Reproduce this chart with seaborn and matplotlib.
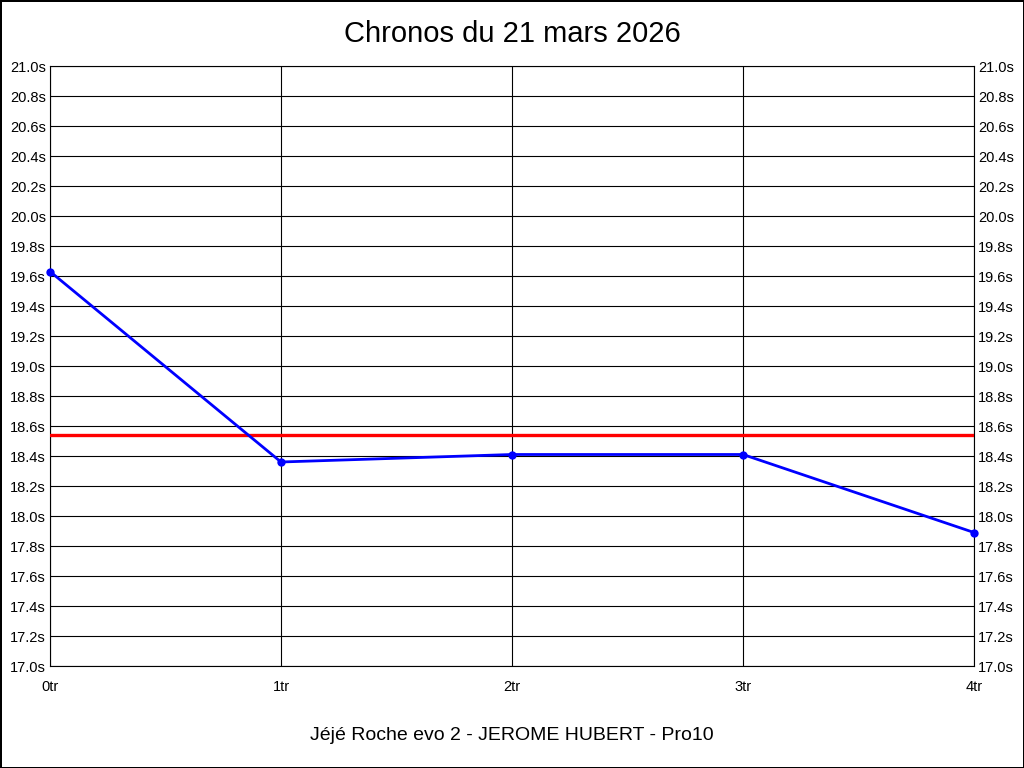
import pandas as pd
import matplotlib.pyplot as plt
import seaborn as sns

# Data
tours = [0, 1, 2, 3, 4]
tour_labels = ['0tr', '1tr', '2tr', '3tr', '4tr']
chronos = [19.63, 18.36, 18.41, 18.41, 17.89]
y_ticks = [17.0 + 0.2 * i for i in range(21)]

df = pd.DataFrame({'tour': tours, 'chrono': chronos})
moyenne = df['chrono'].mean()

sns.set_style('white')
plt.rcParams['font.family'] = ['Liberation Sans', 'DejaVu Sans']
plt.rcParams['text.color'] = 'black'
plt.rcParams['xtick.color'] = 'black'
plt.rcParams['ytick.color'] = 'black'

fig = plt.figure(figsize=(10.24, 7.68), dpi=100, linewidth=2, edgecolor='black')
ax = fig.add_axes([50 / 1024, 102 / 768, 924 / 1024, 600 / 768])

sns.lineplot(data=df, x='tour', y='chrono', ax=ax, color='#0000ff',
             linewidth=2, marker='o', markersize=6, markeredgewidth=0, clip_on=False, zorder=4)
ax.axhline(moyenne, color='#ff0000', linewidth=2.4, zorder=3)

ax.set_xlim(0, 4)
ax.set_ylim(17.0, 21.0)
ax.set_xticks(tours)
ax.set_xticklabels(tour_labels)
ax.set_yticks(y_ticks)
ax.set_yticklabels([f'{v:.1f}s' for v in y_ticks])
ax.grid(True, color='black', linewidth=0.8)
ax.set_axisbelow(True)
for s in ax.spines.values():
    s.set_color('black')
    s.set_linewidth(0.8)
ax.tick_params(axis='y', which='both', length=0, pad=3, labelsize=10.5, labelright=True)
ax.tick_params(axis='x', length=0, pad=10, labelsize=10.5)
ax.set_xlabel('')
ax.set_ylabel('')

fig.text(0.5, 1 - 34 / 768, 'Chronos du 21 mars 2026', ha='center', va='center', fontsize=21)
fig.text(0.5, 1 - 735 / 768, 'Jéjé Roche evo 2 - JEROME HUBERT - Pro10', ha='center', va='center', fontsize=14)

fig.savefig('out.png', dpi=100, edgecolor=fig.get_edgecolor())
